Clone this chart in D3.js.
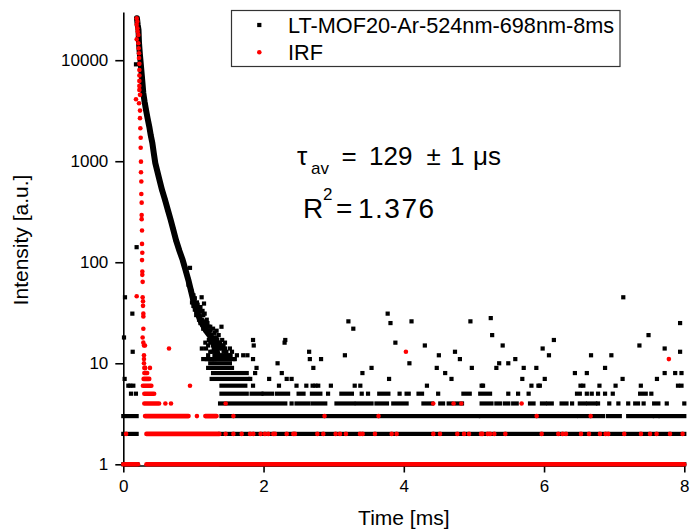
<!DOCTYPE html>
<html>
<head>
<meta charset="utf-8">
<script src="https://cdn.jsdelivr.net/npm/d3@7"></script>
<style>
body { margin: 0; background: #fff; }
svg { display: block; font-family: "Liberation Sans", Arial, sans-serif; }
</style>
</head>
<body>
<svg id="chart" width="690" height="532"></svg>
<script>
// decay of the sample: dense part of the curve (time ms, counts)
var blackCurve = [
  [0.195, 26000], [0.205, 22500], [0.217, 19900], [0.224, 14800], [0.236, 11500],
  [0.248, 9400], [0.267, 6680], [0.285, 4750], [0.303, 3900], [0.324, 3220],
  [0.347, 2650], [0.371, 2190], [0.392, 1800], [0.414, 1520], [0.435, 1200],
  [0.456, 960], [0.516, 653], [0.552, 520], [0.595, 414], [0.635, 330],
  [0.676, 262], [0.713, 210], [0.751, 166], [0.80, 130], [0.847, 105],
  [0.887, 84], [0.927, 67], [0.96, 54], [0.998, 42], [1.04, 34],
  [1.094, 27], [1.18, 21], [1.279, 17], [1.35, 12]
];

// sample: single scattered points
var blackPoints = [
  [0.010, 18], [0.024, 45], [0.129, 31], [0.134, 13], [0.019, 7], [0.072, 6], [0.10, 6],
  [0.143, 6], [0.11, 5], [0.18, 5], [0.181, 9100], [0.19, 141],
  [0.951, 88], [0.93, 60], [0.97, 52], [1.0, 47], [1.117, 45], [1.151, 39], [0.98, 40],
  [1.03, 36], [1.05, 40], [1.00, 37], [1.05, 35], [1.09, 33], [1.02, 34], [1.07, 31],
  [1.14, 30], [1.09, 29], [1.12, 27], [1.19, 27], [1.10, 25], [1.17, 24], [1.24, 23],
  [1.14, 22], [1.19, 21], [1.28, 22], [1.33, 21], [1.40, 23], [1.21, 20], [1.26, 19],
  [1.33, 18], [1.26, 17], [1.31, 16], [1.38, 16], [1.17, 16], [1.28, 15], [1.36, 15],
  [1.43, 15], [1.12, 14], [1.24, 13], [1.33, 13], [1.40, 14], [1.47, 13], [1.38, 12],
  [1.21, 12], [1.43, 12], [1.50, 12], [1.55, 13], [1.19, 11], [1.26, 11], [1.59, 11],
  [1.02, 44], [1.06, 38], [1.10, 36], [1.13, 33], [1.16, 31], [1.04, 30], [1.08, 27],
  [1.15, 26], [1.20, 25], [1.13, 24], [1.22, 23], [1.18, 22], [1.24, 21], [1.30, 20],
  [1.23, 19], [1.29, 18], [1.36, 19], [1.22, 17], [1.34, 17], [1.41, 17], [1.24, 16],
  [1.35, 16], [1.45, 16], [1.21, 15], [1.32, 15], [1.39, 15], [1.18, 14], [1.29, 14],
  [1.36, 14], [1.45, 14], [1.52, 14], [1.27, 13], [1.43, 13], [1.30, 12], [1.35, 12],
  [1.47, 12], [1.53, 12], [1.30, 11], [1.57, 11], [1.62, 12],
  [1.71, 12], [1.77, 12], [1.85, 17], [1.86, 15], [1.85, 11], [1.90, 9], [1.88, 8],
  [1.81, 7], [1.85, 6],
  [2.08, 7], [2.20, 10], [2.22, 6], [2.26, 8], [2.30, 16], [2.31, 17], [2.33, 7],
  [2.40, 7], [2.47, 6], [2.61, 6], [2.65, 13], [2.66, 11], [2.71, 9], [2.70, 6],
  [2.74, 6], [2.78, 6], [2.82, 11], [2.96, 6], [3.16, 12], [3.21, 26], [3.28, 22],
  [3.30, 6], [3.38, 6], [3.41, 8], [3.54, 9], [3.77, 31], [3.79, 7], [3.81, 25],
  [3.88, 16], [4.08, 10], [4.11, 26],
  [4.30, 15], [4.33, 6], [4.47, 9], [4.50, 12], [4.59, 8], [4.68, 7], [4.73, 13],
  [4.80, 11], [4.95, 26], [4.97, 9], [5.11, 6], [5.13, 6], [5.24, 28], [5.26, 19],
  [5.32, 9], [5.36, 10], [5.41, 15], [5.49, 10], [5.59, 11], [5.69, 7], [5.71, 9],
  [5.82, 6], [5.89, 9], [5.92, 6], [5.94, 6], [5.98, 14], [6.01, 7], [6.07, 12],
  [6.14, 17], [6.44, 8], [6.52, 6], [6.56, 6], [6.61, 8], [6.67, 12], [6.79, 6],
  [6.87, 9], [6.96, 12], [7.02, 6], [7.12, 7], [7.13, 45], [7.36, 15], [7.38, 6],
  [7.49, 19], [7.61, 7], [7.72, 14], [7.72, 8], [7.87, 8], [7.91, 6], [7.94, 13],
  [7.94, 25], [7.96, 8], [7.96, 6]
];

// sample: rows of points that sit on one count level [level, t from, t to]
var blackRuns = [
  [1, 0, 0.2], [1, 1.40, 8.0],
  [2, 0, 0.19], [2, 1.38, 8.0],
  [3, 0, 0.19], [3, 1.40, 5.06], [3, 5.10, 6.45], [3, 6.50, 6.84], [3, 6.91, 7.08],
  [3, 7.20, 7.54], [3, 7.58, 7.62], [3, 7.66, 8.0],
  [4, 1.38, 2.31], [4, 2.40, 2.40], [4, 2.47, 2.64], [4, 2.70, 2.88], [4, 3.04, 3.28],
  [4, 3.33, 3.54], [4, 3.61, 3.76], [4, 3.85, 4.04], [4, 4.28, 4.40], [4, 4.52, 4.56],
  [4, 4.64, 4.68], [4, 4.75, 4.83], [4, 5.11, 5.25], [4, 5.32, 5.37], [4, 5.44, 5.49],
  [4, 5.56, 5.61], [4, 5.80, 5.85], [4, 5.97, 6.01], [4, 6.06, 6.11], [4, 6.25, 6.32],
  [4, 6.40, 6.40], [4, 6.51, 6.58], [4, 6.63, 6.73], [4, 6.77, 6.77], [4, 6.93, 6.93],
  [4, 7.06, 7.06], [4, 7.20, 7.20], [4, 7.30, 7.34], [4, 7.42, 7.42], [4, 7.57, 7.63],
  [4, 7.75, 7.75], [4, 8.0, 8.0],
  [5, 1.40, 1.76], [5, 1.83, 1.97], [5, 2.0, 2.12], [5, 2.19, 2.35], [5, 2.50, 2.57],
  [5, 2.69, 2.81], [5, 2.92, 2.92], [5, 3.11, 3.26], [5, 3.40, 3.40], [5, 3.49, 3.49],
  [5, 3.65, 3.78], [5, 3.94, 3.94], [5, 4.04, 4.07], [5, 4.21, 4.26], [5, 4.49, 4.49],
  [5, 4.85, 4.94], [5, 5.09, 5.23], [5, 5.49, 5.49], [5, 5.63, 5.63], [5, 5.78, 5.78],
  [5, 6.47, 6.51], [5, 6.61, 6.61], [5, 6.68, 6.68], [5, 6.77, 6.77], [5, 6.87, 6.87],
  [5, 6.98, 6.98], [5, 7.37, 7.45], [5, 7.53, 7.53],
  [6, 1.40, 1.74], [7, 1.26, 1.78], [8, 1.28, 1.76], [9, 1.21, 1.55],
  [10, 1.24, 1.52], [11, 1.14, 1.52]
];

// IRF: single points (time ms, counts)
var irfPoints = [
  [0.191, 26000], [0.200, 24100], [0.191, 22400], [0.200, 20700], [0.205, 19200],
  [0.214, 17800], [0.191, 16100], [0.214, 14700], [0.219, 13100], [0.224, 11700],
  [0.224, 10500], [0.229, 9200], [0.229, 8000], [0.229, 7050], [0.229, 6240],
  [0.229, 5570], [0.229, 5080], [0.238, 4540], [0.181, 4110], [0.224, 3750],
  [0.238, 3170], [0.238, 2670], [0.243, 2120], [0.248, 1710], [0.248, 1360],
  [0.252, 990], [0.252, 778], [0.257, 629], [0.257, 474], [0.262, 389], [0.262, 294],
  [0.262, 267], [0.267, 206], [0.267, 152], [0.271, 124], [0.267, 105], [0.271, 81],
  [0.271, 75], [0.276, 64], [0.191, 46], [0.276, 45], [0.281, 41], [0.281, 37],
  [0.286, 31], [0.286, 29], [0.286, 22], [0.276, 18], [0.286, 16], [0.295, 15],
  [0.309, 15], [0.295, 12], [0.295, 11], [0.295, 10], [0.31, 9], [0.38, 9],
  [0.652, 14], [0.951, 6], [0.04, 2], [4.03, 13], [7.78, 11],
  [1.05, 3], [1.57, 3], [2.87, 3], [3.64, 3], [5.895, 3], [6.665, 3],
  [0.60, 4], [0.68, 4], [1.46, 4], [4.42, 4], [4.71, 4], [4.82, 4], [5.68, 4]
];

// IRF: times where it sits at 2 counts on top of the sample's row
var irfLevel2 = [
  1.46, 1.57, 1.688, 1.807, 1.854, 1.958, 2.02, 2.068, 2.139, 2.163, 2.33, 2.425,
  2.448, 2.767, 2.852, 3.028, 3.09, 3.175, 3.375, 3.413, 3.589, 3.827, 3.898, 4.421,
  4.516, 4.763, 4.859, 4.93, 5.101, 5.12, 5.196, 5.229, 5.291, 5.448, 5.966, 6.203,
  6.265, 6.313, 6.527, 6.641, 6.797, 6.878, 6.916, 7.144, 7.382, 7.511, 7.605, 7.796,
  7.976
];

// IRF: rows of points on one count level [level, t from, t to]
var irfRuns = [
  [1, 0, 0.21], [1, 0.33, 8.0], [2, 0.33, 1.37], [3, 0.31, 0.93], [3, 1.17, 1.33],
  [4, 0.30, 0.51], [5, 0.30, 0.44], [6, 0.28, 0.40], [7, 0.29, 0.37], [8, 0.30, 0.34],
  [9, 0.30, 0.31]
];

var xTicks = [0, 2, 4, 6, 8];
var xMinorTicks = [1, 3, 5, 7];
var yTicks = [1, 10, 100, 1000, 10000];
var legendLabels = ["LT-MOF20-Ar-524nm-698nm-8ms", "IRF"];

var svg = d3.select("#chart");
var x = d3.scaleLinear().domain([0, 8]).range([123.3, 684.3]);
var y = d3.scaleLog().domain([0.973, 30000]).range([465.5, 12]);

var yMinorTicks = [];
yTicks.forEach(function(d) {
  for (var m = 2; m <= 9; m++) {
    if (d * m <= 30000) yMinorTicks.push(d * m);
  }
});

// axes
var gx = svg.append("g").attr("transform", "translate(0,465.5)");
gx.call(d3.axisBottom(x).tickValues(xMinorTicks).tickSize(4).tickFormat("").tickSizeOuter(0));
gx.call(d3.axisBottom(x).tickValues(xTicks).tickSize(7).tickPadding(7).tickSizeOuter(0)
  .tickFormat(d3.format("d")));

var gy = svg.append("g").attr("transform", "translate(123.3,0)");
gy.call(d3.axisLeft(y).tickValues(yMinorTicks).tickSize(5).tickFormat("").tickSizeOuter(0));
gy.call(d3.axisLeft(y).tickValues(yTicks).tickSize(8).tickPadding(7).tickSizeOuter(0)
  .tickFormat(d3.format("d")));

svg.selectAll(".domain").attr("stroke", "#000").attr("stroke-width", 1.6);
svg.selectAll(".tick line").attr("stroke", "#000").attr("stroke-width", 1.6);
svg.selectAll(".tick text").attr("fill", "#000")
  .style("font-family", "'Liberation Sans', Arial, sans-serif").style("font-size", "17px");

svg.append("text")
  .attr("x", 403.8).attr("y", 525)
  .attr("text-anchor", "middle")
  .style("font-size", "21px")
  .text("Time [ms]");

svg.append("text")
  .attr("transform", "translate(28,240) rotate(-90)")
  .attr("text-anchor", "middle")
  .style("font-size", "21px")
  .text("Intensity [a.u.]");

// sample data
var sq = 4.2;
svg.append("g").selectAll("rect")
  .data(blackRuns)
  .enter()
  .append("rect")
  .attr("x", function(d) { return x(d[1]) - sq / 2; })
  .attr("y", function(d) { return y(d[0]) - sq / 2; })
  .attr("width", function(d) { return x(d[2]) - x(d[1]) + sq; })
  .attr("height", sq)
  .attr("fill", "#000");

svg.append("path")
  .datum(blackCurve)
  .attr("d", d3.line()
    .x(function(d) { return x(d[0]); })
    .y(function(d) { return y(d[1]); }))
  .attr("fill", "none")
  .attr("stroke", "#000")
  .attr("stroke-width", 6)
  .attr("stroke-linejoin", "round")
  .attr("stroke-linecap", "round");

svg.append("g").selectAll("rect")
  .data(blackCurve.concat(blackPoints))
  .enter()
  .append("rect")
  .attr("x", function(d) { return x(d[0]) - sq / 2; })
  .attr("y", function(d) { return y(d[1]) - sq / 2; })
  .attr("width", sq)
  .attr("height", sq)
  .attr("fill", "#000");

// IRF data
var r = 2.3;
svg.append("g").selectAll("rect")
  .data(irfRuns)
  .enter()
  .append("rect")
  .attr("x", function(d) { return x(d[1]) - r; })
  .attr("y", function(d) { return y(d[0]) - r; })
  .attr("width", function(d) { return x(d[2]) - x(d[1]) + 2 * r; })
  .attr("height", 2 * r)
  .attr("rx", r)
  .attr("fill", "#ff0000");

svg.append("g").selectAll("circle")
  .data(irfPoints.concat(irfLevel2.map(function(t) { return [t, 2]; })))
  .enter()
  .append("circle")
  .attr("cx", function(d) { return x(d[0]); })
  .attr("cy", function(d) { return y(d[1]); })
  .attr("r", r)
  .attr("fill", "#ff0000");

// legend
var legend = svg.append("g");
legend.append("rect")
  .attr("x", 231.5).attr("y", 10.5).attr("width", 388.5).attr("height", 56)
  .attr("fill", "#fff").attr("stroke", "#333").attr("stroke-width", 1.2);
legend.append("rect")
  .attr("x", 259.3 - sq / 2).attr("y", 25 - sq / 2).attr("width", sq).attr("height", sq)
  .attr("fill", "#000");
legend.append("circle")
  .attr("cx", 259.3).attr("cy", 52.3).attr("r", r).attr("fill", "#ff0000");
legend.selectAll("text")
  .data(legendLabels)
  .enter()
  .append("text")
  .attr("x", 288)
  .attr("y", function(d, i) { return 33.3 + i * 27; })
  .style("font-size", "21.7px")
  .text(function(d) { return d; });

// fit annotation
var note = svg.append("g").style("font-size", "26px");
note.append("text").attr("x", 297).attr("y", 164.5).text("τ");
note.append("text").attr("x", 311).attr("y", 173.5).style("font-size", "17px").text("av");
note.append("text").attr("x", 341.5).attr("y", 164.5).text("=");
note.append("text").attr("x", 369).attr("y", 164.5).text("129");
note.append("text").attr("x", 426.5).attr("y", 164.5).text("±");
note.append("text").attr("x", 450).attr("y", 164.5).text("1");
note.append("text").attr("x", 473).attr("y", 164.5).text("μs");
var note2 = svg.append("g").style("font-size", "28px");
note2.append("text").attr("x", 303).attr("y", 217.5).text("R");
note2.append("text").attr("x", 323).attr("y", 200).style("font-size", "17px").text("2");
note2.append("text").attr("x", 336).attr("y", 217.5).text("=");
note2.append("text").attr("x", 358).attr("y", 217.5).style("letter-spacing", "1.5px").text("1.376");
</script>
</body>
</html>
